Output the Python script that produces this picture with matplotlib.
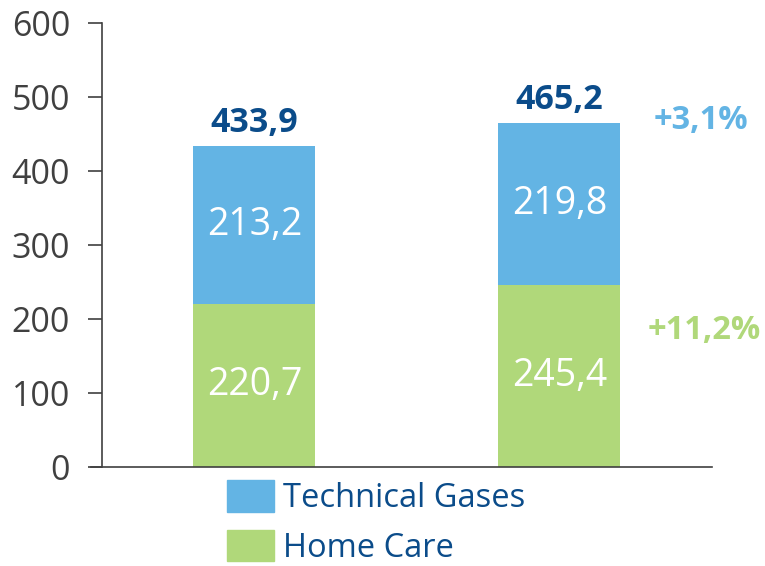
import matplotlib
matplotlib.use("Agg")
import matplotlib.pyplot as plt
from matplotlib.patches import Patch

categories = ["2015", "2016"]
home_care = [220.7, 245.4]
technical_gases = [213.2, 219.8]
totals = [433.9, 465.2]
home_care_labels = ["220,7", "245,4"]
tech_labels = ["213,2", "219,8"]
total_labels = ["433,9", "465,2"]
growth_tech = "+3,1%"
growth_home = "+11,2%"
yticks = [0, 100, 200, 300, 400, 500, 600]

BLUE = "#63B4E4"
GREEN = "#B0D87A"
DARK = "#0B4C8A"
GRAY = "#404040"

plt.rcParams['font.family'] = ['Open Sans', 'DejaVu Sans']

fig = plt.figure(figsize=(7.65, 5.66), dpi=100)
ax = fig.add_axes([0.1333, 0.1749, 0.7974, 0.7845])

x = list(range(len(categories)))
w = 0.4
ax.bar(x, home_care, width=w, color=GREEN, label="Home Care")
ax.bar(x, technical_gases, width=w, bottom=home_care, color=BLUE, label="Technical Gases")

for i in x:
    ax.text(i, home_care[i] / 2, home_care_labels[i], ha='center', va='center',
            color='white', fontsize=27)
    ax.text(i, home_care[i] + technical_gases[i] / 2, tech_labels[i], ha='center',
            va='center', color='white', fontsize=27)
    ax.annotate(total_labels[i], (i, totals[i]), xytext=(0, 4), textcoords='offset points',
                ha='center', va='bottom', color=DARK, fontsize=24.5, fontweight='bold')

ax.text(1.465, 468, growth_tech, ha='center', va='center', color=BLUE, fontsize=23.5,
        fontweight='bold', clip_on=False)
ax.text(1.475, 185, growth_home, ha='center', va='center', color=GREEN, fontsize=23.5,
        fontweight='bold', clip_on=False)

ax.set_xlim(-0.5, 1.5)
ax.set_ylim(0, 600)
ax.set_yticks(yticks)
ax.set_xticks([])
ax.tick_params(axis='y', labelsize=24.5, colors=GRAY, length=10, width=1.2, pad=13)
for s in ['top', 'right']:
    ax.spines[s].set_visible(False)
for s in ['left', 'bottom']:
    ax.spines[s].set_color(GRAY)
    ax.spines[s].set_linewidth(1.2)
ax.spines['bottom'].set_bounds(-0.535, 1.5)

handles = [Patch(color=BLUE, label="Technical Gases"), Patch(color=GREEN, label="Home Care")]
leg = fig.legend(handles=handles, loc='upper left', bbox_to_anchor=(0.2967, 0.152),
                 frameon=False, fontsize=23.5, handlelength=1.43, handleheight=1.12,
                 handletextpad=0.3, labelspacing=0.45, borderaxespad=0, borderpad=0)
for t in leg.get_texts():
    t.set_color(DARK)

fig.savefig("out.png", dpi=100)
